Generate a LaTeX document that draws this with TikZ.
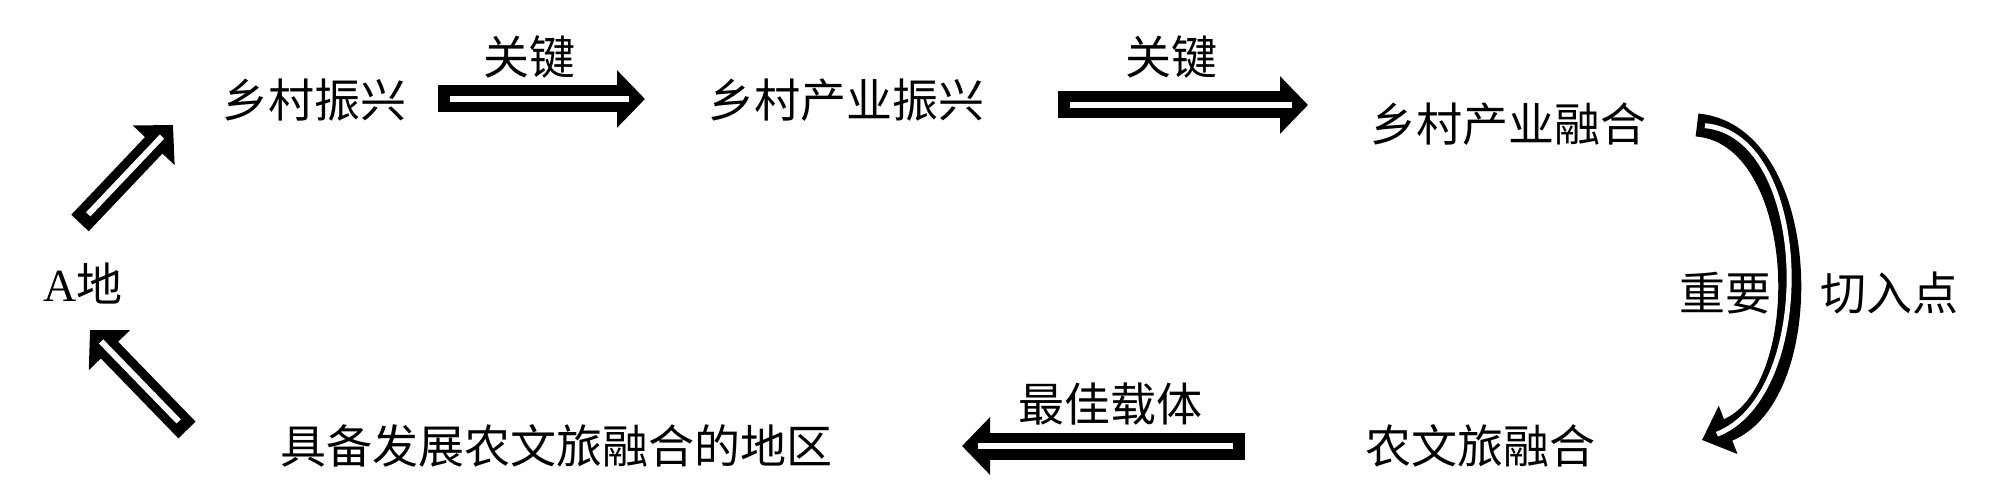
\documentclass[tikz,border=0pt]{standalone}
\usepackage{fontspec}
\setmainfont{Liberation Serif}
\newfontfamily\cjk{Noto Sans CJK SC}
\usetikzlibrary{arrows.meta}
\begin{document}
\begin{tikzpicture}[x=0.5pt,y=-0.5pt,
  lbl/.style={font=\cjk\fontsize{23pt}{26pt}\selectfont, inner sep=0pt},
  barrow/.style={draw=black, line width=13.5pt, -{Triangle[length=14pt,width=28pt]},
    postaction={draw=white, line width=3pt, shorten >=8pt, shorten <=6pt, -}},
  carrow/.style={draw=black, line width=11.5pt, -{Triangle[length=14pt,width=25pt]},
    postaction={draw=white, line width=2.5pt, shorten >=8pt, shorten <=4pt, -}}
]
\useasboundingbox (0,0) rectangle (2000,502);
% text nodes
\node[lbl] (rv) at (314,100) {乡村振兴};
\node[lbl] (ri) at (846,100) {乡村产业振兴};
\node[lbl] (rf) at (1508,124) {乡村产业融合};
\node[lbl] (at) at (1480,446) {农文旅融合};
\node[lbl] (ar) at (556,446) {具备发展农文旅融合的地区};
\node[lbl] (ad) at (83,283) {\rmfamily A\cjk 地};
% arrow labels
\node[lbl] (k1) at (529,57) {关键};
\node[lbl] (k2) at (1171,57) {关键};
\node[lbl] (zy) at (1725,293) {重要};
\node[lbl] (qr) at (1889,293) {切入点};
\node[lbl] (zj) at (1110,404) {最佳载体};
% arrow ends
\coordinate (p1s) at (438,99);  \coordinate (p1e) at (645,99);
\coordinate (p2s) at (1058,105); \coordinate (p2e) at (1308,105);
\coordinate (p3s) at (1697,125); \coordinate (p3e) at (1702,440);
\coordinate (p4s) at (1245,446); \coordinate (p4e) at (962,446);
\coordinate (p5s) at (187,430); \coordinate (p5e) at (90,330);
\coordinate (p6s) at (80,223); \coordinate (p6e) at (173,125);
% arrows
\draw[barrow] (p1s) -- (p1e);
\draw[barrow] (p2s) -- (p2e);
\draw[carrow] (p3s) .. controls (1812,135) and (1818,395) .. (p3e);
\draw[barrow, line join=round] (p4s) -- (p4e);
\draw[barrow, line width=12pt] (p5s) -- (p5e);
\draw[barrow, line width=12pt] (p6s) -- (p6e);
\end{tikzpicture}
\end{document}
